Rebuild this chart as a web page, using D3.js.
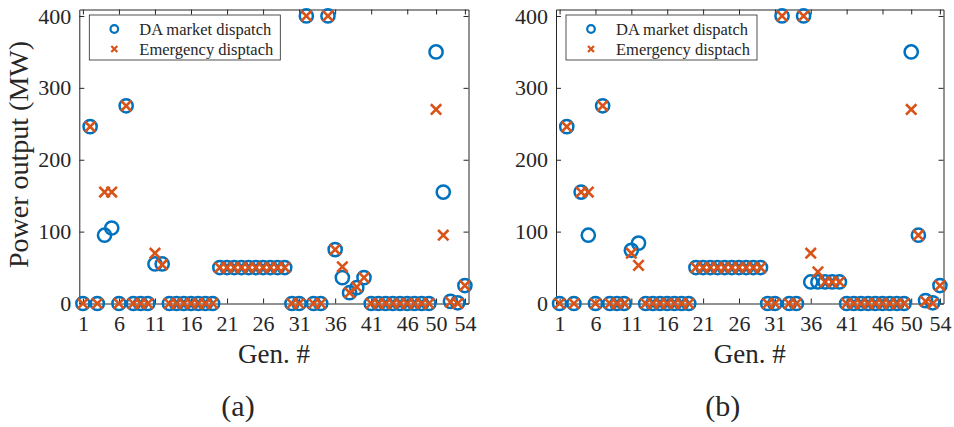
<!DOCTYPE html>
<html>
<head>
<meta charset="utf-8">
<script src="https://cdn.jsdelivr.net/npm/d3@7/dist/d3.min.js"></script>
<style>
  html, body { margin: 0; padding: 0; background: #fff; }
  svg { display: block; font-family: "Liberation Serif", "Times New Roman", serif; }
</style>
</head>
<body>
<svg id="chart" width="954" height="427"></svg>
<script>
// Generator numbers 1..54
const gens = [1,2,3,4,5,6,7,8,9,10,11,12,13,14,15,16,17,18,19,20,21,22,23,24,25,26,27,28,29,30,
  31,32,33,34,35,36,37,38,39,40,41,42,43,44,45,46,47,48,49,50,51,52,53,54];

// Case (a): power output per generator (MW)
const daA = [0,246,0,95,105,0,275,0,0,0,55,55,0,0,0,0,0,0,0,50,50,50,50,50,50,50,50,50,50,0,
  0,400,0,0,400,75,36,15,22,36,0,0,0,0,0,0,0,0,0,350,155,3,1,25];
const emA = [0,246,0,155,155,0,275,0,0,0,70,54,0,0,0,0,0,0,0,50,50,50,50,50,50,50,50,50,50,0,
  0,400,0,0,400,75,51,15,23,36,0,0,0,0,0,0,0,0,0,270,95,2,0,25];

// Case (b): power output per generator (MW)
const daB = [0,246,0,155,95,0,275,0,0,0,74,84,0,0,0,0,0,0,0,50,50,50,50,50,50,50,50,50,50,0,
  0,400,0,0,400,30,30,30,30,30,0,0,0,0,0,0,0,0,0,350,95,4,1,25];
const emB = [0,246,0,155,155,0,275,0,0,0,70,53,0,0,0,0,0,0,0,50,50,50,50,50,50,50,50,50,50,0,
  0,400,0,0,400,70,44,30,30,30,0,0,0,0,0,0,0,0,0,270,95,3,0,25];

const xTicks = [1,6,11,16,21,26,31,36,41,46,50,54];
const yTicks = [0,100,200,300,400];
const seriesNames = ["DA market dispatch", "Emergency disptach"];
const panelTags = ["(a)", "(b)"];

const BLUE = "#0072BD", ORANGE = "#D95319", INK = "#262626";
const svg = d3.select("#chart");

const plotTop = 9.5, plotBottom = 303.5;
const y = d3.scaleLinear().domain([0, 409]).range([plotBottom, plotTop]);

function panel(opts) {
  const { left, right, da, em, tag, tagX, showYLabel } = opts;
  const x = d3.scaleLinear().domain([0.5, 54.5]).range([left, right]);
  const g = svg.append("g");

  const styleAxis = sel => {
    sel.selectAll("path.domain").attr("stroke", INK).attr("stroke-width", 1);
    sel.selectAll(".tick line").attr("stroke", INK).attr("stroke-width", 1);
    sel.selectAll("text").attr("fill", INK).style("font-size", "22px")
      .style("font-family", "'Liberation Serif', 'Times New Roman', serif");
  };

  g.append("g").attr("transform", `translate(0,${plotBottom})`)
    .call(d3.axisBottom(x).tickValues(xTicks).tickSize(-5).tickSizeOuter(0).tickPadding(12))
    .call(styleAxis);
  g.append("g").attr("transform", `translate(0,${plotTop})`)
    .call(d3.axisTop(x).tickValues(xTicks).tickSize(-5).tickSizeOuter(0).tickFormat(""))
    .call(styleAxis);
  g.append("g").attr("transform", `translate(${left},0)`)
    .call(d3.axisLeft(y).tickValues(yTicks).tickSize(-5).tickSizeOuter(0).tickPadding(8))
    .call(styleAxis);
  g.append("g").attr("transform", `translate(${right},0)`)
    .call(d3.axisRight(y).tickValues(yTicks).tickSize(-5).tickSizeOuter(0).tickFormat(""))
    .call(styleAxis);

  // DA dispatch: open circles
  g.append("g").selectAll("circle").data(gens).join("circle")
    .attr("cx", (d) => x(d)).attr("cy", (d, i) => y(da[i])).attr("r", 6.6)
    .attr("fill", "none").attr("stroke", BLUE).attr("stroke-width", 2.5);

  // Emergency dispatch: crosses
  const s = 5.2;
  g.append("g").selectAll("path").data(gens).join("path")
    .attr("d", (d, i) => {
      const cx = x(d), cy = y(em[i]);
      return `M${cx - s},${cy - s}L${cx + s},${cy + s}M${cx - s},${cy + s}L${cx + s},${cy - s}`;
    })
    .attr("fill", "none").attr("stroke", ORANGE).attr("stroke-width", 2.6);

  // Legend
  const lg = g.append("g").attr("transform", `translate(${left + 10},${plotTop + 5.5})`);
  lg.append("rect").attr("width", 191).attr("height", 45)
    .attr("fill", "#fff").attr("stroke", INK).attr("stroke-width", 0.8);
  lg.append("circle").attr("cx", 25).attr("cy", 14).attr("r", 3.8)
    .attr("fill", "none").attr("stroke", BLUE).attr("stroke-width", 2.2);
  const ls = 3;
  lg.append("path")
    .attr("d", `M${25 - ls},${34 - ls}L${25 + ls},${34 + ls}M${25 - ls},${34 + ls}L${25 + ls},${34 - ls}`)
    .attr("stroke", ORANGE).attr("stroke-width", 2.2);
  lg.selectAll("text").data(seriesNames).join("text")
    .attr("x", 50).attr("y", (d, i) => 19.5 + i * 20)
    .attr("fill", INK).style("font-size", "16.5px").text(d => d);

  // Axis titles and panel tag
  g.append("text").attr("x", (left + right) / 2).attr("y", 363)
    .attr("text-anchor", "middle").attr("fill", INK).style("font-size", "27px").text("Gen. #");
  g.append("text").attr("x", tagX).attr("y", 416)
    .attr("text-anchor", "middle").attr("fill", INK).style("font-size", "30px").text(tag);
  if (showYLabel) {
    g.append("text").attr("transform", `translate(28,${(plotTop + plotBottom) / 2 - 2}) rotate(-90)`)
      .attr("text-anchor", "middle").attr("fill", INK).style("font-size", "28px")
      .text("Power output (MW)");
  }
}

panel({ left: 79.3, right: 468.5, da: daA, em: emA, tag: panelTags[0], tagX: 238, showYLabel: true });
panel({ left: 556, right: 943.5, da: daB, em: emB, tag: panelTags[1], tagX: 722.7, showYLabel: false });
</script>
</body>
</html>
